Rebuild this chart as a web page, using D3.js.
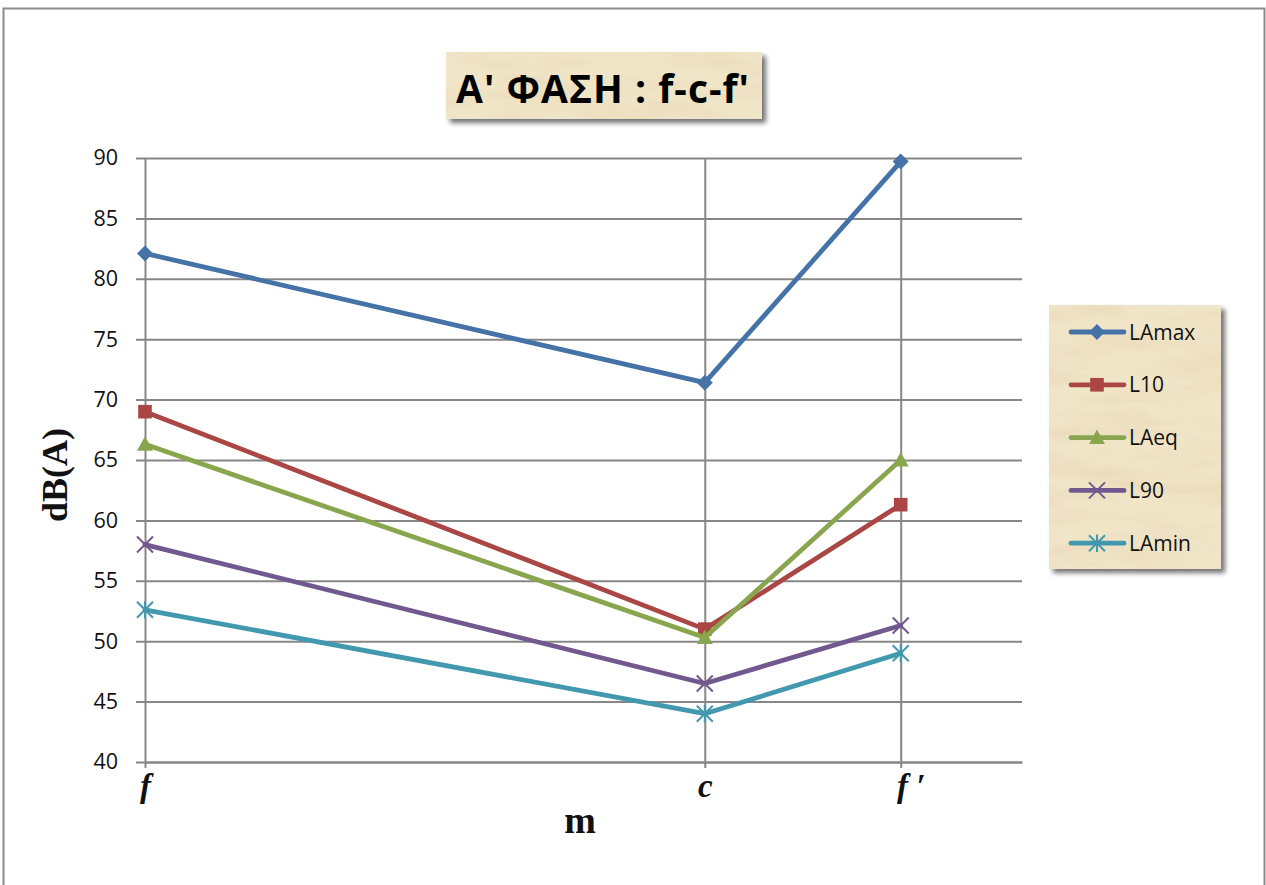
<!DOCTYPE html>
<html>
<head>
<meta charset="utf-8">
<script src="https://cdn.jsdelivr.net/npm/d3@7"></script>
<style>
  html, body { margin: 0; padding: 0; background: #fff; }
  svg { display: block; }
</style>
</head>
<body>
<svg id="chart" width="1266" height="885"></svg>
<script>
// Measurement points along the route (distance in m) and their labels
const pointNames = ["f", "c", "f \u2032"];
const pointDist = [0, 30, 40.5];
const distMax = 47;

// Noise levels, dB(A)
const seriesNames = ["LAmax", "L10", "LAeq", "L90", "LAmin"];
const LAmax = [82.1, 71.4, 89.7];
const L10 = [69.0, 51.0, 61.3];
const LAeq = [66.3, 50.3, 65.0];
const L90 = [58.0, 46.5, 51.3];
const LAmin = [52.6, 44.0, 49.0];
const yTicks = [40, 45, 50, 55, 60, 65, 70, 75, 80, 85, 90];

const colors = ["#4572A7", "#AA4643", "#89A54E", "#71588F", "#4198AF"];
const symbols = ["diamond", "square", "triangle", "x", "star"];
const allSeries = [LAmax, L10, LAeq, L90, LAmin];

const svg = d3.select("#chart");
const defs = svg.append("defs");

// parchment texture
const paper = defs.append("filter").attr("id", "paper")
  .attr("x", 0).attr("y", 0).attr("width", 1).attr("height", 1);
paper.append("feTurbulence").attr("type", "fractalNoise")
  .attr("baseFrequency", "0.012 0.05").attr("numOctaves", 4).attr("seed", 7).attr("result", "noise");
paper.append("feColorMatrix").attr("in", "noise").attr("type", "matrix")
  .attr("values", "0 0 0 0 0.80  0 0 0 0 0.68  0 0 0 0 0.46  -1.6 0 0 0 0.95").attr("result", "tint");
paper.append("feFlood").attr("flood-color", "#f1e5c8").attr("result", "base");
paper.append("feComposite").attr("in", "tint").attr("in2", "base").attr("operator", "over").attr("result", "tex");
paper.append("feComposite").attr("in", "tex").attr("in2", "SourceGraphic").attr("operator", "in");

const shadow = defs.append("filter").attr("id", "shadow")
  .attr("x", -0.1).attr("y", -0.1).attr("width", 1.3).attr("height", 1.3);
shadow.append("feGaussianBlur").attr("in", "SourceAlpha").attr("stdDeviation", 2.5);
shadow.append("feOffset").attr("dx", 4).attr("dy", 4).attr("result", "b");
shadow.append("feComponentTransfer").append("feFuncA").attr("type", "linear").attr("slope", 0.55);

// outer chart frame
svg.append("path")
  .attr("d", "M3.5,885 V8.5 H1264.5 V885")
  .attr("fill", "none").attr("stroke", "#8c8c8c").attr("stroke-width", 2);

const margin = { left: 145, right: 1022, top: 158, bottom: 762 };
const x = d3.scaleLinear().domain([0, distMax]).range([margin.left, margin.right]);
const y = d3.scaleLinear().domain([40, 90]).range([margin.bottom, margin.top]);

const gridColor = "#878787";

// horizontal gridlines with left ticks
const yAxis = d3.axisLeft(y).tickValues(yTicks).tickSize(-(margin.right - margin.left)).tickPadding(27).tickSizeOuter(0);
const gy = svg.append("g").attr("transform", `translate(${margin.left},0)`).call(yAxis);
gy.select(".domain").remove();
gy.selectAll(".tick line").attr("x1", -9).attr("stroke", gridColor).attr("stroke-width", 2);
gy.selectAll(".tick text").attr("font-family", "'Open Sans', sans-serif").attr("font-size", 21.5).attr("fill", "#111");

// vertical gridlines at each measurement point
const xAxis = d3.axisBottom(x).tickValues(pointDist).tickFormat((d, i) => pointNames[i])
  .tickSize(-(margin.bottom - margin.top)).tickPadding(0).tickSizeOuter(0);
const gx = svg.append("g").attr("transform", `translate(0,${margin.bottom})`).call(xAxis);
gx.select(".domain").attr("stroke", gridColor).attr("stroke-width", 2);
gx.selectAll(".tick line").attr("y1", 6).attr("stroke", gridColor).attr("stroke-width", 2);
gx.selectAll(".tick text")
  .attr("font-family", "'Liberation Serif', serif").attr("font-style", "italic").attr("font-weight", "bold")
  .attr("font-size", 33).attr("fill", "#111").attr("y", 35).attr("dy", 0)
  .attr("dx", (d, i) => i === 2 ? 10 : 0);

// axis titles
svg.append("text").attr("transform", "translate(67,475) rotate(-90)")
  .attr("text-anchor", "middle").attr("font-family", "'Liberation Serif', serif")
  .attr("font-weight", "bold").attr("font-size", 36).attr("fill", "#111").text("dB(A)");
svg.append("text").attr("x", 580).attr("y", 833)
  .attr("text-anchor", "middle").attr("font-family", "'Liberation Serif', serif")
  .attr("font-weight", "bold").attr("font-size", 38).attr("fill", "#111").text("m");

// marker shapes
function marker(g, type, color, size) {
  const s = size;
  if (type === "diamond") {
    g.append("path").attr("d", `M0,${-s} L${s},0 L0,${s} L${-s},0Z`).attr("fill", color);
  } else if (type === "square") {
    g.append("rect").attr("x", -s * 0.85).attr("y", -s * 0.85).attr("width", s * 1.7).attr("height", s * 1.7).attr("fill", color);
  } else if (type === "triangle") {
    g.append("path").attr("d", `M0,${-s} L${s},${s * 0.8} L${-s},${s * 0.8}Z`).attr("fill", color);
  } else if (type === "x") {
    g.append("path").attr("d", `M${-s},${-s} L${s},${s} M${-s},${s} L${s},${-s}`)
      .attr("stroke", color).attr("stroke-width", 2);
  } else if (type === "star") {
    g.append("path").attr("d", `M${-s},${-s} L${s},${s} M${-s},${s} L${s},${-s} M0,${-s * 1.1} L0,${s * 1.1}`)
      .attr("stroke", color).attr("stroke-width", 2);
  }
}

// series lines and markers
const line = d3.line().x((d, i) => x(pointDist[i])).y(d => y(d));
allSeries.forEach((vals, k) => {
  svg.append("path").datum(vals).attr("d", line)
    .attr("fill", "none").attr("stroke", colors[k]).attr("stroke-width", 4.8)
    .attr("stroke-linejoin", "round").attr("stroke-linecap", "round");
  vals.forEach((v, i) => {
    const g = svg.append("g").attr("transform", `translate(${x(pointDist[i])},${y(v)})`);
    marker(g, symbols[k], colors[k], 8);
  });
});

// title box
const tb = { x: 446, y: 52, w: 316, h: 67 };
svg.append("rect").attr("x", tb.x).attr("y", tb.y).attr("width", tb.w).attr("height", tb.h)
  .attr("fill", "#000").attr("filter", "url(#shadow)");
svg.append("rect").attr("x", tb.x).attr("y", tb.y).attr("width", tb.w).attr("height", tb.h)
  .attr("fill", "#eadbb6").attr("filter", "url(#paper)");
svg.append("text").attr("x", 603).attr("y", 103)
  .attr("text-anchor", "middle").attr("font-family", "'Open Sans', sans-serif")
  .attr("font-weight", "bold").attr("font-size", 39).attr("letter-spacing", 1).attr("fill", "#000")
  .text("A' ΦΑΣΗ : f-c-f'");

// legend box
const lb = { x: 1049, y: 305, w: 172, h: 264 };
svg.append("rect").attr("x", lb.x).attr("y", lb.y).attr("width", lb.w).attr("height", lb.h)
  .attr("fill", "#000").attr("filter", "url(#shadow)");
svg.append("rect").attr("x", lb.x).attr("y", lb.y).attr("width", lb.w).attr("height", lb.h)
  .attr("fill", "#eadbb6").attr("filter", "url(#paper)");
const legend = svg.append("g");
seriesNames.forEach((name, k) => {
  const ly = 332 + k * 52.8;
  const g = legend.append("g").attr("transform", `translate(0,${ly})`);
  g.append("line").attr("x1", 1071).attr("x2", 1124).attr("stroke", colors[k])
    .attr("stroke-width", 4.8).attr("stroke-linecap", "round");
  const m = g.append("g").attr("transform", "translate(1097,0)");
  marker(m, symbols[k], colors[k], 8);
  g.append("text").attr("x", 1129).attr("y", 0).attr("dy", "0.36em")
    .attr("font-family", "'Open Sans', sans-serif").attr("font-size", 21).attr("fill", "#111").text(name);
});
</script>
</body>
</html>
